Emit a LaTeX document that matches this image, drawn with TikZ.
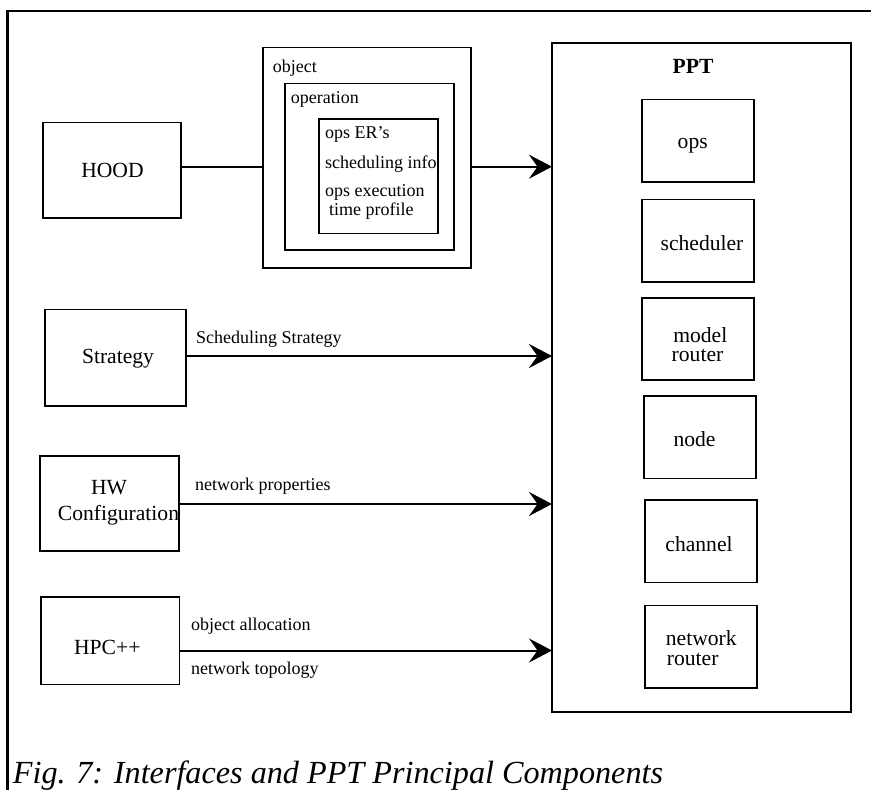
\documentclass[tikz,border=0pt]{standalone}
\usepackage{fontspec}
\setmainfont{Liberation Serif}
\usetikzlibrary{arrows.meta}
\begin{document}
\begin{tikzpicture}[x=1pt,y=-1pt,
  box/.style={draw, line width=1.6pt, inner sep=0pt, outer sep=0pt, anchor=north west},
  link/.style={line width=2pt},
  flow/.style={line width=2pt, -{Stealth[length=23pt,width=24pt,inset=8.5pt]}},
  big/.style={inner sep=0pt, font=\fontsize{21.6}{21.6}\selectfont},
  small/.style={inner sep=0pt, font=\fontsize{18}{18}\selectfont},
]
\useasboundingbox (0,0) rectangle (871,790);

% outer frame (top and left edges)
\draw[line width=2.8pt] (7.5,790) -- (7.5,11) -- (871,11);

% input boxes on the left
\node[box, minimum width=138.3pt, minimum height=95.7pt] (hood) at (42.7,122.3) {};
\node[box, minimum width=141pt, minimum height=96.4pt] (strategy) at (45,309.3) {};
\node[box, minimum width=139pt, minimum height=95pt] (hw) at (40,456) {};
\node[box, minimum width=138.6pt, minimum height=87.6pt] (hpc) at (40.7,596.7) {};

% nested object / operation boxes
\node[box, minimum width=208pt, minimum height=220.4pt] (objbox) at (263,47.3) {};
\node[box, minimum width=169pt, minimum height=166.7pt] (opbox) at (285,83.3) {};
\node[box, minimum width=118.7pt, minimum height=114.6pt] (infobox) at (319,118.7) {};

% PPT and its components
\node[box, minimum width=299pt, minimum height=669pt] (ppt) at (552,42.7) {};
\node[box, minimum width=112pt, minimum height=82.4pt] (ops) at (641.7,99.3) {};
\node[box, minimum width=112pt, minimum height=82.4pt] (sched) at (641.7,199.3) {};
\node[box, minimum width=112pt, minimum height=82pt] (mrouter) at (641.7,298) {};
\node[box, minimum width=112pt, minimum height=82.3pt] (nodebox) at (644,396) {};
\node[box, minimum width=112.3pt, minimum height=82.3pt] (channel) at (644.7,500) {};
\node[box, minimum width=112.3pt, minimum height=82.4pt] (nrouter) at (644.7,605.3) {};

% texts
\node[big, anchor=base] (hoodt) at (112.5,177.3) {HOOD};
\node[big, anchor=base] (strategyt) at (118,363.3) {Strategy};
\node[big, anchor=base] (hwt) at (109,494.3) {HW};
\node[big, anchor=base west] (hwt2) at (57.7,520) {Configuration};
\node[big, anchor=base] (hpct) at (107.3,654) {HPC++};

\node[small, anchor=base west] (objt) at (272.7,72.7) {object};
\node[small, anchor=base west] (opt) at (290.7,103) {operation};
\node[small, anchor=base west] (inf1) at (325,138) {ops ER\char"0027 s};
\node[small, anchor=base west] (inf2) at (325,168) {scheduling info};
\node[small, anchor=base west] (inf3) at (325,196.7) {ops execution};
\node[small, anchor=base west] (inf4) at (329,215) {time profile};

\node[big, anchor=base, font=\fontsize{21.6}{21.6}\selectfont\bfseries] (pptt) at (693,73.3) {PPT};
\node[big, anchor=base] (opst) at (692.7,148) {ops};
\node[big, anchor=base] (schedt) at (702,250) {scheduler};
\node[big, anchor=base] (mrt1) at (700.3,342.5) {model};
\node[big, anchor=base] (mrt2) at (697.5,361.5) {router};
\node[big, anchor=base] (nodet) at (694.5,446.7) {node};
\node[big, anchor=base] (channelt) at (699,551.7) {channel};
\node[big, anchor=base west] (nrt1) at (665.7,645) {network};
\node[big, anchor=base west] (nrt2) at (666.7,665) {router};

\node[small, anchor=base west] (lab1) at (196,343.5) {Scheduling Strategy};
\node[small, anchor=base west] (lab2) at (195,490.7) {network properties};
\node[small, anchor=base west] (lab3) at (191,630.5) {object allocation};
\node[small, anchor=base west] (lab4) at (191,674) {network topology};

% connector levels
\coordinate (yA) at (0,166.7);
\coordinate (yB) at (0,356);
\coordinate (yC) at (0,504);
\coordinate (yD) at (0,650.5);

\draw[link] (hood.east |- yA) -- (objbox.west |- yA);
\draw[flow] (objbox.east |- yA) -- (ppt.west |- yA);
\draw[flow] (strategy.east |- yB) -- (ppt.west |- yB);
\draw[flow] (hw.east |- yC) -- (ppt.west |- yC);
\draw[flow] (hpc.east |- yD) -- (ppt.west |- yD);

% caption
\node[inner sep=0pt, anchor=base west, font=\fontsize{32.2}{32.2}\selectfont\itshape] (caption) at (12.7,783) {Fig. 7: Interfaces and PPT Principal Components};
\end{tikzpicture}
\end{document}
